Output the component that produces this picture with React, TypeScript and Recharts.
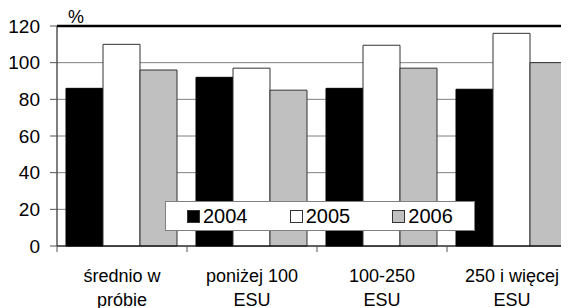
import { BarChart, Bar, XAxis, YAxis, CartesianGrid, ReferenceLine } from 'recharts'

const categories = ['średnio w\npróbie', 'poniżej 100\nESU', '100-250\nESU', '250 i więcej\nESU']
const values2004 = [86, 92, 86, 85.5]
const values2005 = [110, 97, 109.5, 116]
const values2006 = [96, 85, 97, 100]
const yTicks = [0, 20, 40, 60, 80, 100, 120]
const seriesNames = ['2004', '2005', '2006']

const FONT = '"Liberation Sans", Arial, sans-serif'

const data = categories.map((name, i) => ({
  name,
  '2004': values2004[i],
  '2005': values2005[i],
  '2006': values2006[i],
}))

const fills: Record<string, string> = { '2004': '#000000', '2005': '#ffffff', '2006': '#c0c0c0' }

// category ticks sit on the band edges, labels centred and wrapped onto two lines
function CategoryTick(props: any) {
  const { x, y, payload, width } = props
  const band = width / categories.length
  const lines = String(payload.value).split('\n')
  const axisY = y - 8
  return (
    <g>
      <line x1={x - band / 2} x2={x - band / 2} y1={axisY} y2={axisY + 6} stroke="#555" />
      <text x={x} y={axisY + 36} textAnchor="middle" fontSize={18} fontFamily={FONT} fill="#000">
        {lines.map((l, i) => (
          <tspan key={i} x={x} dy={i === 0 ? 0 : 24}>{l}</tspan>
        ))}
      </text>
    </g>
  )
}

function LegendBox() {
  return (
    <div
      style={{
        position: 'absolute',
        left: 165,
        top: 201,
        width: 308,
        height: 28,
        border: '1px solid #808080',
        background: '#fff',
        display: 'flex',
        alignItems: 'center',
        fontFamily: FONT,
        fontSize: 20,
      }}
    >
      {seriesNames.map((s) => (
        <div key={s} style={{ display: 'flex', alignItems: 'center', width: 104, paddingLeft: 21, boxSizing: 'border-box' }}>
          <span style={{ display: 'inline-block', width: 11, height: 11, background: fills[s], border: '1px solid #333', marginRight: 3 }} />
          <span>{s}</span>
        </div>
      ))}
    </div>
  )
}

export default function App() {
  return (
    <div style={{ margin: '-8px 0 0 -8px', width: 569, height: 308, overflow: 'hidden', position: 'relative', background: '#fff' }}>
      <BarChart
        width={600}
        height={308}
        data={data}
        margin={{ top: 26, right: 23, bottom: 0, left: 0 }}
        barCategoryGap={9}
        barGap={0}
      >
        <CartesianGrid vertical={false} stroke="#808080" />
        <XAxis dataKey="name" height={62} tickLine={false} axisLine={{ stroke: '#000' }} tick={<CategoryTick />} interval={0} />
        <YAxis
          width={57}
          domain={[0, 120]}
          ticks={yTicks}
          tickSize={7}
          tickMargin={10}
          tickLine={{ stroke: '#555' }}
          axisLine={{ stroke: '#000' }}
          tick={{ fill: '#000', fontSize: 19, fontFamily: FONT }}
          label={() => (
            <text x={68} y={23} fontSize={18} fontFamily={FONT} fill="#000">%</text>
          )}
        />
        <ReferenceLine y={120} stroke="#000" strokeWidth={2.5} />
        {seriesNames.map((s) => (
          <Bar key={s} dataKey={s} fill={fills[s]} stroke={s === '2004' ? '#000' : '#333'} isAnimationActive={false} />
        ))}
      </BarChart>
      <LegendBox />
    </div>
  )
}
